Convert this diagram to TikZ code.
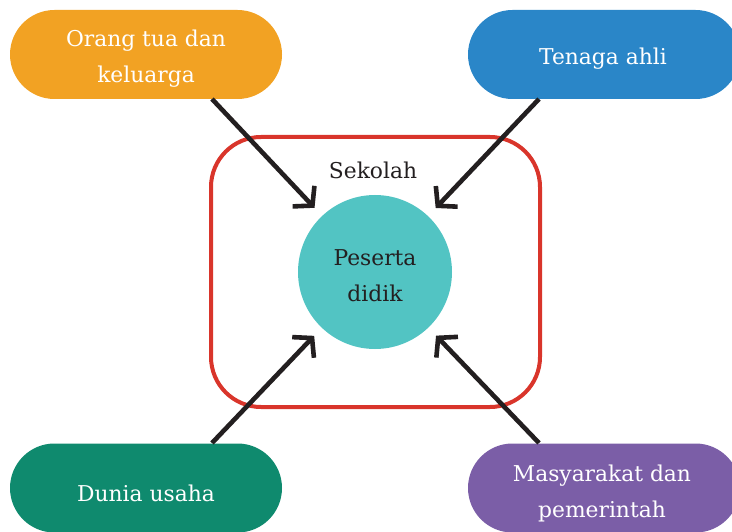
\documentclass[tikz,border=0pt]{standalone}
\usepackage{fontspec}
\setmainfont{DejaVu Serif}
\usetikzlibrary{arrows.meta}
\definecolor{corange}{HTML}{F2A223}
\definecolor{cblue}{HTML}{2A86C8}
\definecolor{cgreen}{HTML}{0F8A6E}
\definecolor{cpurple}{HTML}{7B5EA7}
\definecolor{cteal}{HTML}{52C4C3}
\definecolor{cred}{HTML}{D9352B}
\definecolor{cdark}{HTML}{231F20}
\tikzset{
  txt/.style={font=\fontsize{21.8}{36}\selectfont, align=center},
  pill/.style={rounded corners=44.5pt, minimum width=272pt, minimum height=89pt, inner sep=0pt},
  pilltext/.style={txt, text=white, inner sep=0pt},
  conn/.style={draw=cdark, line width=4.6pt, shorten >=11pt,
    -{Straight Barb[length=13pt,width=30pt,line join=miter,line cap=butt]}},
}
\begin{document}
\begin{tikzpicture}[x=1pt,y=-1pt]
\useasboundingbox (0,0) rectangle (732,532);
\clip (0,0) rectangle (732,532);
\node[draw=cred, line width=4pt, rounded corners=50pt, minimum width=329pt, minimum height=270pt] (box) at (375.5,272) {};
\node[fill=cteal, circle, minimum size=154pt, inner sep=0pt] (c) at (375,272) {};
\node[txt, text=cdark, inner sep=0pt] (ct) at (375,276) {Peserta\\didik};
\node[text=cdark, txt] (sek) at (373,170) {Sekolah};
\node[pill, fill=corange] (o) at (146,54.5) {};
\node[pilltext] (ot) at (146,58.5) {Orang tua dan\\keluarga};
\node[pill, fill=cblue] (b) at (604,54.5) {};
\node[pilltext] (bt) at (603,59) {Tenaga ahli};
\node[pill, fill=cgreen] (g) at (146,488) {};
\node[pilltext] (gt) at (146,493) {Dunia usaha};
\node[pill, fill=cpurple] (p) at (604,488) {};
\node[pilltext] (pt) at (602,493) {Masyarakat dan\\pemerintah};
\coordinate (os) at (212,99);
\coordinate (bs) at (539,99);
\coordinate (gs) at (212,443);
\coordinate (ps) at (539,443);
\draw[conn] (os) -- (c);
\draw[conn] (bs) -- (c);
\draw[conn] (gs) -- (c);
\draw[conn] (ps) -- (c);
\end{tikzpicture}
\end{document}
